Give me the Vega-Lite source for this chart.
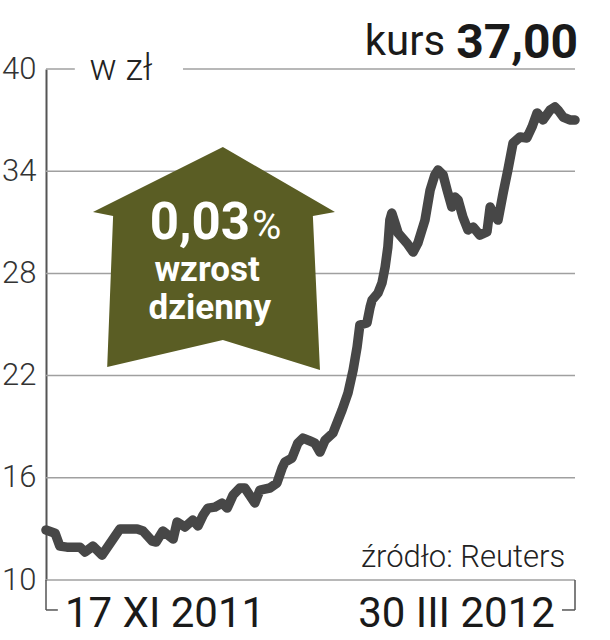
{
  "$schema": "https://vega.github.io/schema/vega-lite/v6.json",
  "width": 529,
  "height": 511,
  "autosize": {"type": "none"},
  "padding": {"left": 46, "top": 69, "right": 35, "bottom": 60},
  "background": "white",
  "config": {"view": {"stroke": null}, "font": "Roboto"},
  "datasets": {
    "kurs": [
      {"d": 0, "v": 12.93}, {"d": 2.3, "v": 12.75}, {"d": 3.5, "v": 11.99}, {"d": 5.3, "v": 11.93},
      {"d": 8.6, "v": 11.93}, {"d": 9.9, "v": 11.64}, {"d": 11.9, "v": 11.99}, {"d": 14.2, "v": 11.46},
      {"d": 18.7, "v": 12.99}, {"d": 23.1, "v": 12.99}, {"d": 24.6, "v": 12.87}, {"d": 26.9, "v": 12.28},
      {"d": 27.9, "v": 12.23}, {"d": 29.6, "v": 12.87}, {"d": 32.2, "v": 12.4}, {"d": 33.2, "v": 13.4},
      {"d": 35.2, "v": 13.11}, {"d": 37.2, "v": 13.52}, {"d": 38.5, "v": 13.17}, {"d": 39.8, "v": 13.81},
      {"d": 41.0, "v": 14.22}, {"d": 42.8, "v": 14.28}, {"d": 44.6, "v": 14.52}, {"d": 45.9, "v": 14.22},
      {"d": 47.4, "v": 14.99}, {"d": 49.1, "v": 15.4}, {"d": 50.4, "v": 15.4}, {"d": 52.9, "v": 14.52},
      {"d": 54.2, "v": 15.28}, {"d": 56.7, "v": 15.4}, {"d": 58.5, "v": 15.69}, {"d": 59.8, "v": 16.57},
      {"d": 60.5, "v": 16.92}, {"d": 62.3, "v": 17.16}, {"d": 63.8, "v": 18.04}, {"d": 65.1, "v": 18.33},
      {"d": 66.9, "v": 18.16}, {"d": 68.1, "v": 18.04}, {"d": 69.4, "v": 17.51}, {"d": 70.7, "v": 18.21},
      {"d": 72.7, "v": 18.63}, {"d": 75.0, "v": 19.98}, {"d": 76.5, "v": 20.98}, {"d": 77.8, "v": 22.33},
      {"d": 78.8, "v": 23.68}, {"d": 79.5, "v": 24.97}, {"d": 81.3, "v": 25.09}, {"d": 82.1, "v": 26.02},
      {"d": 82.6, "v": 26.44}, {"d": 84.1, "v": 26.85}, {"d": 85.1, "v": 27.43}, {"d": 85.9, "v": 28.37},
      {"d": 86.6, "v": 29.55}, {"d": 87.1, "v": 31.13}, {"d": 87.6, "v": 31.54}, {"d": 88.4, "v": 30.96},
      {"d": 89.2, "v": 30.37}, {"d": 91.4, "v": 29.78}, {"d": 93.0, "v": 29.25}, {"d": 94.2, "v": 29.78},
      {"d": 96.0, "v": 31.13}, {"d": 97.3, "v": 32.89}, {"d": 98.5, "v": 33.78}, {"d": 99.3, "v": 34.07},
      {"d": 100.6, "v": 33.78}, {"d": 101.6, "v": 32.89}, {"d": 102.8, "v": 31.9}, {"d": 103.6, "v": 32.48},
      {"d": 104.4, "v": 32.31}, {"d": 105.6, "v": 31.31}, {"d": 106.9, "v": 30.55}, {"d": 108.2, "v": 30.72},
      {"d": 109.9, "v": 30.25}, {"d": 111.7, "v": 30.43}, {"d": 112.5, "v": 31.9}, {"d": 113.2, "v": 31.54},
      {"d": 114.5, "v": 31.13}, {"d": 115.8, "v": 32.72}, {"d": 117.0, "v": 34.07}, {"d": 118.3, "v": 35.65},
      {"d": 120.1, "v": 36.01}, {"d": 121.8, "v": 35.95}, {"d": 123.1, "v": 36.59}, {"d": 124.4, "v": 37.42},
      {"d": 125.9, "v": 37.01}, {"d": 127.7, "v": 37.59}, {"d": 128.9, "v": 37.77}, {"d": 129.7, "v": 37.59},
      {"d": 131.0, "v": 37.18}, {"d": 132.7, "v": 37.01}, {"d": 134, "v": 37.0}
    ],
    "siatka": [
      {"g": 10, "a": 0, "b": 134}, {"g": 16, "a": 0, "b": 134}, {"g": 22, "a": 0, "b": 134},
      {"g": 28, "a": 0, "b": 134}, {"g": 34, "a": 0, "b": 134},
      {"g": 40, "a": 0, "b": 7.3}, {"g": 40, "a": 34.7, "b": 134}
    ],
    "strzalka": [
      {"k": 1, "d": 44.8, "v": 35.42}, {"k": 2, "d": 73.2, "v": 31.6}, {"k": 3, "d": 67.6, "v": 31.37},
      {"k": 4, "d": 69.4, "v": 22.33}, {"k": 5, "d": 44.8, "v": 24.09}, {"k": 6, "d": 15.5, "v": 22.5},
      {"k": 7, "d": 17.0, "v": 31.37}, {"k": 8, "d": 11.9, "v": 31.6}, {"k": 9, "d": 44.8, "v": 35.42}
    ]
  },
  "layer": [
    {
      "data": {"name": "siatka"},
      "mark": {"type": "rule", "color": "#a0a0a0", "strokeWidth": 1.5},
      "encoding": {
        "x": {"field": "a", "type": "quantitative", "scale": {"domain": [0, 134], "nice": false, "zero": false}, "axis": null},
        "x2": {"field": "b"},
        "y": {"field": "g", "type": "quantitative", "scale": {"domain": [10, 40], "nice": false, "zero": false},
          "axis": {"values": [10, 16, 22, 28, 34, 40], "grid": false, "ticks": false, "domain": true, "domainColor": "#555555", "domainWidth": 2,
            "labelPadding": 10, "labelFontSize": 31, "labelFontWeight": 300, "labelColor": "#333333", "labelFont": "Roboto", "title": null}}
      }
    },
    {
      "data": {"values": [
        {"a": 0, "b": 0, "y1": 10, "y2": 8.24},
        {"a": 134, "b": 134, "y1": 10, "y2": 8.24},
        {"a": 0, "b": 3.0, "y1": 8.24, "y2": 8.24},
        {"a": 130.7, "b": 134, "y1": 8.24, "y2": 8.24}
      ]},
      "mark": {"type": "rule", "color": "#555555", "strokeWidth": 1.5},
      "encoding": {
        "x": {"field": "a", "type": "quantitative"},
        "x2": {"field": "b"},
        "y": {"field": "y1", "type": "quantitative"},
        "y2": {"field": "y2"}
      }
    },
    {
      "data": {"name": "strzalka"},
      "mark": {"type": "line", "fill": "#5a5d24", "stroke": null, "interpolate": "linear"},
      "encoding": {
        "x": {"field": "d", "type": "quantitative"},
        "y": {"field": "v", "type": "quantitative"},
        "order": {"field": "k"}
      }
    },
    {
      "data": {"name": "kurs"},
      "mark": {"type": "line", "color": "#474747", "strokeWidth": 9.5, "strokeCap": "round", "strokeJoin": "round"},
      "encoding": {
        "x": {"field": "d", "type": "quantitative"},
        "y": {"field": "v", "type": "quantitative"}
      }
    },
    {
      "data": {"values": [{"t": "w zł", "d": 19, "v": 39.35}]},
      "mark": {"type": "text", "align": "center", "baseline": "alphabetic", "fontSize": 36, "fontWeight": 300, "color": "#222222"},
      "encoding": {"x": {"field": "d", "type": "quantitative"}, "y": {"field": "v", "type": "quantitative"}, "text": {"field": "t"}}
    },
    {
      "data": {"values": [{"t": "kurs", "d": 101.1, "v": 40.82}]},
      "mark": {"type": "text", "align": "right", "baseline": "alphabetic", "fontSize": 42, "fontWeight": 400, "color": "#1a1a1a"},
      "encoding": {"x": {"field": "d", "type": "quantitative"}, "y": {"field": "v", "type": "quantitative"}, "text": {"field": "t"}}
    },
    {
      "data": {"values": [{"t": "37,00", "d": 134.8, "v": 40.65}]},
      "mark": {"type": "text", "align": "right", "baseline": "alphabetic", "fontSize": 48, "fontWeight": "bold", "color": "#1a1a1a"},
      "encoding": {"x": {"field": "d", "type": "quantitative"}, "y": {"field": "v", "type": "quantitative"}, "text": {"field": "t"}}
    },
    {
      "data": {"values": [{"t": "źródło: Reuters", "d": 131.5, "v": 10.76}]},
      "mark": {"type": "text", "align": "right", "baseline": "alphabetic", "fontSize": 31, "fontWeight": 300, "color": "#222222"},
      "encoding": {"x": {"field": "d", "type": "quantitative"}, "y": {"field": "v", "type": "quantitative"}, "text": {"field": "t"}}
    },
    {
      "data": {"values": [{"t": "17 XI 2011", "d": 4.8, "v": 7.23}]},
      "mark": {"type": "text", "align": "left", "baseline": "alphabetic", "fontSize": 42, "fontWeight": 400, "color": "#1a1a1a"},
      "encoding": {"x": {"field": "d", "type": "quantitative"}, "y": {"field": "v", "type": "quantitative"}, "text": {"field": "t"}}
    },
    {
      "data": {"values": [{"t": "30 III 2012", "d": 128.9, "v": 7.23}]},
      "mark": {"type": "text", "align": "right", "baseline": "alphabetic", "fontSize": 42, "fontWeight": 400, "color": "#1a1a1a"},
      "encoding": {"x": {"field": "d", "type": "quantitative"}, "y": {"field": "v", "type": "quantitative"}, "text": {"field": "t"}}
    },
    {
      "data": {"values": [{"t": "0,03", "d": 51.7, "v": 30.02}]},
      "mark": {"type": "text", "align": "right", "baseline": "alphabetic", "fontSize": 51, "fontWeight": "bold", "color": "white"},
      "encoding": {"x": {"field": "d", "type": "quantitative"}, "y": {"field": "v", "type": "quantitative"}, "text": {"field": "t"}}
    },
    {
      "data": {"values": [{"t": "%", "d": 52.2, "v": 30.02}]},
      "mark": {"type": "text", "align": "left", "baseline": "alphabetic", "fontSize": 40, "fontWeight": 400, "color": "white"},
      "encoding": {"x": {"field": "d", "type": "quantitative"}, "y": {"field": "v", "type": "quantitative"}, "text": {"field": "t"}}
    },
    {
      "data": {"values": [{"t": "wzrost", "d": 40.8, "v": 27.55}, {"t": "dzienny", "d": 41.5, "v": 25.3}]},
      "mark": {"type": "text", "align": "center", "baseline": "alphabetic", "fontSize": 35, "fontWeight": "bold", "color": "white"},
      "encoding": {"x": {"field": "d", "type": "quantitative"}, "y": {"field": "v", "type": "quantitative"}, "text": {"field": "t"}}
    }
  ]
}
